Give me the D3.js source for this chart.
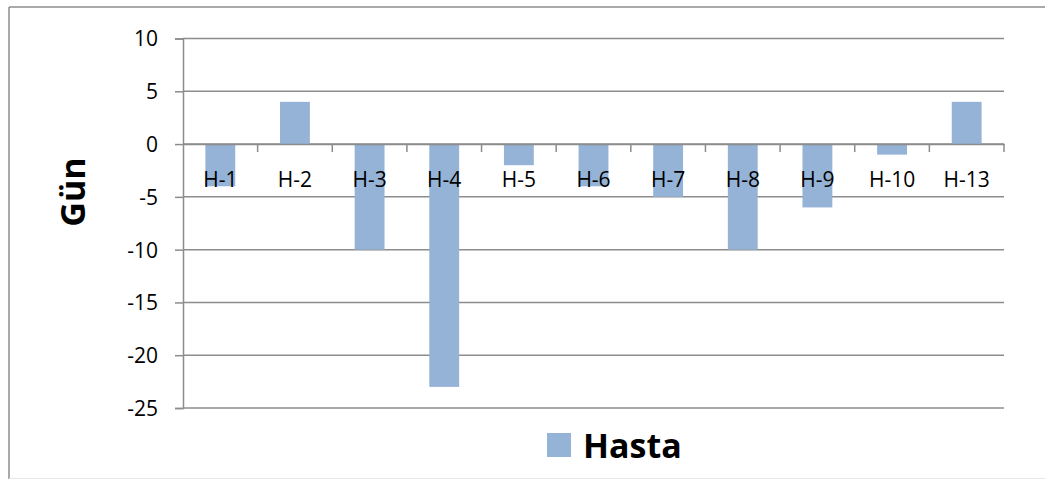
<!DOCTYPE html>
<html><head><meta charset="utf-8">
<script src="https://cdn.jsdelivr.net/npm/d3@7"></script>
<style>html,body{margin:0;padding:0;background:#fff;} svg{display:block;}</style>
</head><body>
<svg id="c" width="1045" height="480"></svg>
<script>
const categories = ["H-1","H-2","H-3","H-4","H-5","H-6","H-7","H-8","H-9","H-10","H-13"];
const values = [-4, 4, -10, -23, -2, -4, -5, -10, -6, -1, 4];
const yTicks = [10, 5, 0, -5, -10, -15, -20, -25];
const seriesName = "Hasta";
const yTitle = "Gün";

const svg = d3.select("#c");
const font = "'Open Sans', sans-serif";
const gridColor = "#8c8c8c";
const barColor = "#95b3d7";

// outer frame
svg.append("line").attr("x1",9).attr("x2",1045).attr("y1",7).attr("y2",7).attr("stroke","#8c8c8c").attr("stroke-width",1.5);
svg.append("line").attr("x1",9).attr("x2",9).attr("y1",7).attr("y2",479).attr("stroke","#8c8c8c").attr("stroke-width",1.5);
svg.append("line").attr("x1",9).attr("x2",1045).attr("y1",478.5).attr("y2",478.5).attr("stroke","#e6e6e6").attr("stroke-width",1);

const x = d3.scaleBand().domain(categories).range([183, 1004]).padding(0);
const y = d3.scaleLinear().domain([-25, 10]).range([408, 38.5]);

// gridlines + y ticks
const yAxis = d3.axisLeft(y).tickValues(yTicks).tickSize(8).tickPadding(17).tickFormat(d => String(d));
const gy = svg.append("g").attr("transform","translate(183,0)").call(yAxis);
gy.select(".domain").attr("stroke",gridColor).attr("stroke-width",1.5);
gy.selectAll(".tick line").attr("stroke",gridColor).attr("stroke-width",1.5);
gy.selectAll(".tick text").attr("font-family",font).attr("font-size",21).attr("fill","#000").attr("dy","0.35em");

svg.append("g").selectAll("line").data(yTicks).join("line")
  .attr("x1",183).attr("x2",1004)
  .attr("y1",d=>y(d)).attr("y2",d=>y(d))
  .attr("stroke",gridColor).attr("stroke-width",1.5);

// bars
const bw = x.bandwidth()*0.4;
svg.append("g").selectAll("rect").data(values).join("rect")
  .attr("x",(d,i)=>x(categories[i]) + x.bandwidth()/2 - bw/2)
  .attr("width",bw)
  .attr("y",d=>Math.min(y(d),y(0)))
  .attr("height",d=>Math.abs(y(d)-y(0)))
  .attr("fill",barColor);

// x axis at zero
const xAxis = d3.axisBottom(x).tickSize(0).tickPadding(0);
const gx = svg.append("g").attr("transform",`translate(0,${y(0)})`).call(xAxis);
gx.select(".domain").attr("stroke",gridColor).attr("stroke-width",1.5);
gx.selectAll(".tick text").attr("font-family",font).attr("font-size",21).attr("fill","#000").attr("dy",0).attr("y",43);
// category boundary ticks
const bounds = categories.map(c=>x(c)).slice(1).concat([x.range()[1]]);
svg.append("g").selectAll("line").data(bounds).join("line")
  .attr("x1",d=>d).attr("x2",d=>d)
  .attr("y1",y(0)).attr("y2",y(0)+8)
  .attr("stroke",gridColor).attr("stroke-width",1.5);
gx.raise();

// y title
svg.append("text").attr("transform","translate(85,192) rotate(-90)")
  .attr("text-anchor","middle").attr("font-family",font).attr("font-weight","bold")
  .attr("font-size",34).attr("fill","#000").text(yTitle);

// legend
svg.append("rect").attr("x",547).attr("y",433).attr("width",24).attr("height",24).attr("fill",barColor);
svg.append("text").attr("x",583).attr("y",458).attr("font-family",font).attr("font-weight","bold")
  .attr("font-size",34).attr("fill","#000").text(seriesName);
</script>
</body></html>
